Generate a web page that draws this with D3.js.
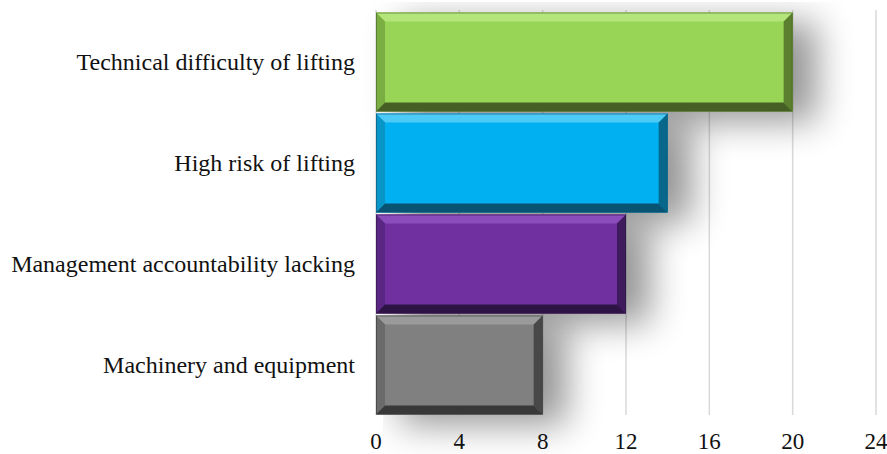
<!DOCTYPE html>
<html>
<head>
<meta charset="utf-8">
<script src="https://cdn.jsdelivr.net/npm/d3@7"></script>
<style>
  body { margin: 0; background: #fff; }
  svg { display: block; }
</style>
</head>
<body>
<div id="chart"></div>
<script>
const categories = ["Technical difficulty of lifting", "High risk of lifting", "Management accountability lacking", "Machinery and equipment"];
const values = [20, 14, 12, 8];
const tickValues = [0, 4, 8, 12, 16, 20, 24];
// face, top bevel, left bevel, right bevel, bottom bevel
const barColors = [
  ["#98d456", "#b3e57a", "#7aad42", "#5b7f2f", "#465f25"],
  ["#00b0f0", "#4dcaf6", "#0995c8", "#08688c", "#0a5473"],
  ["#7030a0", "#8a4dbb", "#5a2683", "#3f1a5c", "#2e1445"],
  ["#808080", "#9a9a9a", "#6a6a6a", "#484848", "#383838"]
];

const width = 887;
const height = 454;
const margin = { top: 12, right: 11, bottom: 39, left: 376 };
const bevel = 9;

const svg = d3.select("#chart")
  .append("svg")
  .attr("width", width)
  .attr("height", height);

const defs = svg.append("defs");
const shadow = defs.append("filter")
  .attr("id", "shadow")
  .attr("x", "-10%").attr("y", "-20%")
  .attr("width", "190%").attr("height", "190%");
shadow.append("feGaussianBlur").attr("in", "SourceAlpha").attr("stdDeviation", 18).attr("result", "blur");
shadow.append("feOffset").attr("dx", 24).attr("dy", 10).attr("result", "off");
shadow.append("feComponentTransfer").append("feFuncA").attr("type", "linear").attr("slope", 0.42);

const x = d3.scaleLinear()
  .domain([0, 24])
  .range([margin.left, width - margin.right]);

const y = d3.scaleBand()
  .domain(categories)
  .range([margin.top, height - margin.bottom])
  .paddingInner(0.02)
  .paddingOuter(0.005);

// gridlines
svg.append("g")
  .selectAll("line")
  .data(tickValues.slice(1))
  .join("line")
  .attr("x1", d => x(d)).attr("x2", d => x(d))
  .attr("y1", margin.top - 2).attr("y2", height - margin.bottom)
  .attr("stroke", "#d9d9d9")
  .attr("stroke-width", 1.5);

// shadows
svg.append("g")
  .selectAll("rect")
  .data(values)
  .join("rect")
  .attr("x", x(0))
  .attr("y", (d, i) => y(categories[i]))
  .attr("width", d => x(d) - x(0))
  .attr("height", y.bandwidth())
  .attr("fill", "#000")
  .attr("filter", "url(#shadow)");

// axis line
svg.append("line")
  .attr("x1", x(0)).attr("x2", x(0))
  .attr("y1", margin.top - 2).attr("y2", height - margin.bottom)
  .attr("stroke", "#d9d9d9")
  .attr("stroke-width", 1.5);

// bevelled bars
const bars = svg.append("g")
  .selectAll("g")
  .data(values)
  .join("g");

bars.each(function(d, i) {
  const g = d3.select(this);
  const x0 = x(0), x1 = x(d);
  const y0 = y(categories[i]), y1 = y0 + y.bandwidth();
  const c = barColors[i];
  const b = bevel;
  const poly = pts => pts.map(p => p.join(",")).join(" ");
  g.append("rect")
    .attr("x", x0).attr("y", y0)
    .attr("width", x1 - x0).attr("height", y1 - y0)
    .attr("fill", c[0]);
  g.append("polygon").attr("fill", c[1])
    .attr("points", poly([[x0, y0], [x1, y0], [x1 - b, y0 + b], [x0 + b, y0 + b]]));
  g.append("polygon").attr("fill", c[2])
    .attr("points", poly([[x0, y0], [x0 + b, y0 + b], [x0 + b, y1 - b], [x0, y1]]));
  g.append("polygon").attr("fill", c[3])
    .attr("points", poly([[x1, y0], [x1, y1], [x1 - b, y1 - b], [x1 - b, y0 + b]]));
  g.append("polygon").attr("fill", c[4])
    .attr("points", poly([[x0, y1], [x0 + b, y1 - b], [x1 - b, y1 - b], [x1, y1]]));
  g.append("rect")
    .attr("x", x0 + 0.5).attr("y", y0 + 0.5)
    .attr("width", x1 - x0 - 1).attr("height", y1 - y0 - 1)
    .attr("fill", "none")
    .attr("stroke", c[4])
    .attr("stroke-opacity", 0.6);
});

// category labels
svg.append("g")
  .selectAll("text")
  .data(categories)
  .join("text")
  .attr("x", x(0) - 21)
  .attr("y", d => y(d) + y.bandwidth() / 2)
  .attr("dy", "0.35em")
  .attr("text-anchor", "end")
  .style("font-family", "'Liberation Serif', 'Times New Roman', serif")
  .style("font-size", "24px")
  .style("fill", "#111")
  .text(d => d);

// x tick labels
svg.append("g")
  .selectAll("text")
  .data(tickValues)
  .join("text")
  .attr("x", d => x(d))
  .attr("y", height - 5)
  .attr("text-anchor", "middle")
  .style("font-family", "'Liberation Serif', 'Times New Roman', serif")
  .style("font-size", "23px")
  .style("fill", "#111")
  .text(d => d);
</script>
</body>
</html>
